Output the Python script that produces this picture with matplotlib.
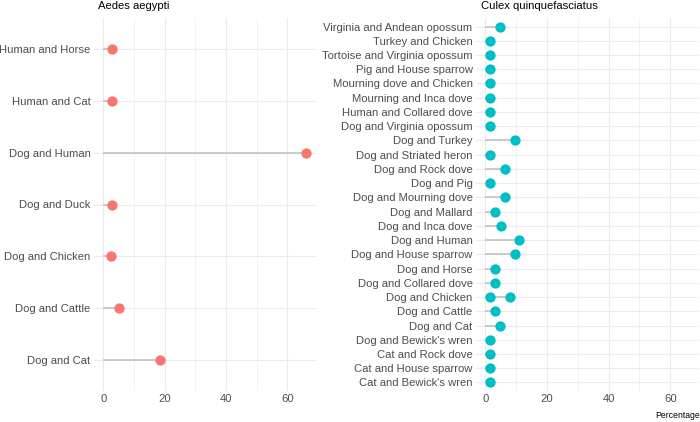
import matplotlib
matplotlib.use("Agg")
import matplotlib.pyplot as plt
from matplotlib import font_manager
from matplotlib.ticker import MultipleLocator

# narrow font if available, otherwise regular one at a smaller size
names = {f.name for f in font_manager.fontManager.ttflist}
if "Liberation Sans Narrow" in names:
    plt.rcParams["font.family"] = ["Liberation Sans Narrow", "DejaVu Sans"]
    FS, FS_SMALL = 10.0, 7.6
else:
    plt.rcParams["font.family"] = ["Liberation Sans", "DejaVu Sans"]
    FS, FS_SMALL = 8.1, 6.2

# Aedes aegypti panel (bottom to top)
aedes_labels = ["Dog and Cat", "Dog and Cattle", "Dog and Chicken", "Dog and Duck",
                "Dog and Human", "Human and Cat", "Human and Horse"]
aedes_values = [18.5, 5.2, 2.5, 2.8, 66.0, 2.8, 2.8]

# Culex quinquefasciatus panel (bottom to top), "Dog and Chicken" has two points
culex_categories = ["Cat and Bewick's wren", "Cat and House sparrow", "Cat and Rock dove",
                    "Dog and Bewick's wren", "Dog and Cat", "Dog and Cattle", "Dog and Chicken",
                    "Dog and Collared dove", "Dog and Horse", "Dog and House sparrow",
                    "Dog and Human", "Dog and Inca dove", "Dog and Mallard",
                    "Dog and Mourning dove", "Dog and Pig", "Dog and Rock dove",
                    "Dog and Striated heron", "Dog and Turkey", "Dog and Virginia opossum",
                    "Human and Collared dove", "Mourning and Inca dove",
                    "Mourning dove and Chicken", "Pig and House sparrow",
                    "Tortoise and Virginia opossum", "Turkey and Chicken",
                    "Virginia and Andean opossum"]
culex_pairs = ["Cat and Bewick's wren", "Cat and House sparrow", "Cat and Rock dove",
               "Dog and Bewick's wren", "Dog and Cat", "Dog and Cattle", "Dog and Chicken",
               "Dog and Chicken", "Dog and Collared dove", "Dog and Horse",
               "Dog and House sparrow", "Dog and Human", "Dog and Inca dove",
               "Dog and Mallard", "Dog and Mourning dove", "Dog and Pig", "Dog and Rock dove",
               "Dog and Striated heron", "Dog and Turkey", "Dog and Virginia opossum",
               "Human and Collared dove", "Mourning and Inca dove",
               "Mourning dove and Chicken", "Pig and House sparrow",
               "Tortoise and Virginia opossum", "Turkey and Chicken",
               "Virginia and Andean opossum"]
culex_values = [1.7, 1.7, 1.7, 1.7, 4.9, 3.3, 1.7, 8.0, 3.2, 3.3, 9.6, 11.1, 4.95, 3.3,
                6.5, 1.7, 6.5, 1.7, 9.7, 1.7, 1.7, 1.7, 1.7, 1.7, 1.7, 1.7, 4.85]

RED = "#F8766D"
TEAL = "#00BFC4"
SEG = "#BEBEBE"
GRID = "#EBEBEB"
TXT = "#4D4D4D"

fig = plt.figure(figsize=(7, 4.22), dpi=100)
ax1 = fig.add_axes([94 / 700, 31 / 422, 222 / 700, 373 / 422])
ax2 = fig.add_axes([476 / 700, 31 / 422, 223 / 700, 373 / 422])


def lollipop(ax, cats, labels, values, color):
    pos = {c: i + 1 for i, c in enumerate(cats)}
    ys = [pos[l] for l in labels]
    ax.hlines(ys, 0, values, color=SEG, linewidth=1.1, zorder=2)
    ax.scatter(values, ys, s=55, color=color, zorder=3, linewidths=0)
    ax.set_yticks(range(1, len(cats) + 1))
    ax.set_yticklabels(cats)
    ax.set_ylim(0.4, len(cats) + 0.6)
    ax.set_xlim(-3.0, 69.3)
    ax.xaxis.set_major_locator(MultipleLocator(20))
    ax.xaxis.set_minor_locator(MultipleLocator(10))
    ax.grid(which="major", color=GRID, linewidth=0.8, zorder=0)
    ax.grid(which="minor", axis="x", color=GRID, linewidth=0.45, zorder=0)
    ax.set_axisbelow(True)
    for s in ax.spines.values():
        s.set_visible(False)
    ax.tick_params(which="both", length=0, labelsize=FS, labelcolor=TXT)
    ax.tick_params(axis="x", pad=2.5)
    ax.tick_params(axis="y", pad=2.5)


lollipop(ax1, aedes_labels, aedes_labels, aedes_values, RED)
lollipop(ax2, culex_categories, culex_pairs, culex_values, TEAL)

fig.text(98 / 700, 1 - 6 / 422, "Aedes aegypti", ha="left", va="center", fontsize=FS, color="black")
fig.text(481 / 700, 1 - 6 / 422, "Culex quinquefasciatus", ha="left", va="center", fontsize=FS, color="black")
fig.text(700 / 700, 1 - 415 / 422, "Percentage", ha="right", va="center", fontsize=FS_SMALL, color="black")

fig.savefig("out.png", dpi=100)
